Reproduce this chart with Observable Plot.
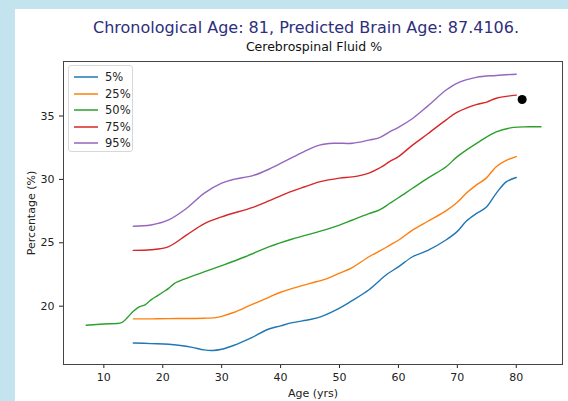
<!DOCTYPE html>
<html><head><meta charset="utf-8">
<script src="https://cdn.jsdelivr.net/npm/d3@7"></script>
<script src="https://cdn.jsdelivr.net/npm/@observablehq/plot@0.6"></script>
<style>
html,body{margin:0;padding:0;background:#c3e3ee;width:568px;height:401px;overflow:hidden;font-family:"DejaVu Sans",sans-serif;}
#panel{position:absolute;left:15px;top:9px;width:553px;height:392px;background:#fff;}
#head{position:relative;height:43px;}
#title{position:absolute;left:291px;top:10px;transform:translateX(-50%);white-space:nowrap;font-size:16px;line-height:18px;color:#2d2f7c;}
#subtitle{position:absolute;left:299px;top:31px;transform:translateX(-50%);white-space:nowrap;font-size:12.5px;line-height:14px;color:#111;}
#legend{position:absolute;left:53px;top:56px;width:65px;height:87px;border:1px solid #d8d8d8;border-radius:3px;background:rgba(255,255,255,0.85);box-sizing:border-box;}
.item{position:absolute;left:4px;height:14px;font-size:11.5px;line-height:14px;color:#222;}
.item svg{position:absolute;left:0;top:0;}
.item span{position:absolute;left:32px;top:0;}
</style></head>
<body>
<div id="panel">
  <div id="head"><div id="title">Chronological Age: 81, Predicted Brain Age: 87.4106.</div><div id="subtitle">Cerebrospinal Fluid %</div></div>
  <div id="chart"></div>
  <div id="legend"></div>
</div>
<script>
const seriesNames = ["5%", "25%", "50%", "75%", "95%"];
const seriesColors = ["#1f77b4", "#ff7f0e", "#2ca02c", "#d62728", "#9467bd"];

const age5 = [15,18,21,23,25,27,28.5,30,32,35,38,40,42,45,47,50,52,55,58,60,62.4,65,68,70,71.5,73.2,74.9,76.6,78.3,80];
const val5 = [17.1,17.05,17.0,16.9,16.75,16.55,16.5,16.6,16.9,17.5,18.2,18.45,18.7,18.95,19.2,19.85,20.4,21.3,22.5,23.1,23.9,24.4,25.2,25.9,26.7,27.3,27.8,28.9,29.8,30.15];

const age25 = [15,18,21,24,27,29,30,32,35,38,40,42,45,48,50,52,55,57,58.5,60,62.4,65,68,70,71.5,73.2,74.9,76.6,78.3,80];
const val25 = [19.0,19.0,19.02,19.03,19.05,19.1,19.2,19.5,20.1,20.7,21.1,21.4,21.8,22.2,22.6,23.0,23.9,24.4,24.8,25.2,26.0,26.7,27.5,28.2,28.9,29.55,30.1,31.0,31.5,31.8];

const age50 = [7,10,13,14,15,16,17,18,19,20,21,22,24,27,30,34,38.1,42,46.6,50,52.2,55,56.8,58.5,60,62.4,65,68.1,70,73.8,76.6,79.5,82,84.2];
const val50 = [18.5,18.6,18.7,19.1,19.6,19.95,20.1,20.5,20.8,21.1,21.4,21.8,22.2,22.7,23.2,23.9,24.7,25.3,25.9,26.4,26.8,27.3,27.6,28.1,28.55,29.3,30.1,31.0,31.8,33.0,33.75,34.1,34.15,34.15];

const age75 = [15,18,21,24,27,30,35.3,38,41,44,46.6,50,52.2,55,56.8,58.5,60,62.4,65,68.1,70,73.2,75,76.6,78.3,80];
const val75 = [24.4,24.45,24.7,25.6,26.5,27.05,27.8,28.3,28.9,29.4,29.8,30.1,30.2,30.5,30.9,31.4,31.8,32.7,33.6,34.7,35.3,35.9,36.1,36.4,36.55,36.65];

const age95 = [15,18,21,24,27,30,32,35.3,38,41,44,46.6,49,52.2,55,56.8,58.5,60,62.4,65,68.1,70,73.2,76.6,80];
const val95 = [26.3,26.4,26.8,27.7,28.9,29.7,30.0,30.3,30.8,31.5,32.2,32.7,32.85,32.85,33.1,33.3,33.75,34.1,34.8,35.8,37.05,37.6,38.05,38.2,38.3];

const subjectAge = [81];
const subjectValue = [36.3];

const xTicks = [10,20,30,40,50,60,70,80];
const yTicks = [20,25,30,35];

const ages = [age5, age25, age50, age75, age95];
const vals = [val5, val25, val50, val75, val95];
const rows = seriesNames.map((s, i) => ages[i].map((a, j) => ({series: s, age: a, value: vals[i][j]})));
const subject = subjectAge.map((a, i) => ({age: a, value: subjectValue[i]}));

const chart = Plot.plot({
  width: 553, height: 349,
  marginLeft: 48, marginRight: 6, marginTop: 9, marginBottom: 37,
  style: {fontFamily: "DejaVu Sans", fontSize: "11px", color: "#222", background: "transparent", overflow: "visible"},
  x: {domain: [3.15, 87.85], ticks: xTicks, label: "Age (yrs)", labelAnchor: "center", labelArrow: "none", labelOffset: 32, tickSize: 4},
  y: {domain: [15.4, 39.3], ticks: yTicks, label: "Percentage (%)", labelAnchor: "center", labelArrow: "none", labelOffset: 36, tickSize: 4},
  marks: [
    ...rows.map((r, i) => Plot.line(r, {x: "age", y: "value", stroke: seriesColors[i], strokeWidth: 1.4, curve: "catmull-rom"})),
    Plot.dot(subject, {x: "age", y: "value", r: 4.5, fill: "black"}),
    Plot.frame({stroke: "#444", strokeWidth: 1})
  ]
});
document.getElementById("chart").appendChild(chart);

const legend = document.getElementById("legend");
seriesNames.forEach((s, i) => {
  const d = document.createElement("div");
  d.className = "item";
  d.style.top = (4 + i * 16.5) + "px";
  d.innerHTML = `<svg width="26" height="14"><line x1="1" x2="25" y1="7" y2="7" stroke="${seriesColors[i]}" stroke-width="1.5"/></svg><span>${s}</span>`;
  legend.appendChild(d);
});
</script>
</body></html>
